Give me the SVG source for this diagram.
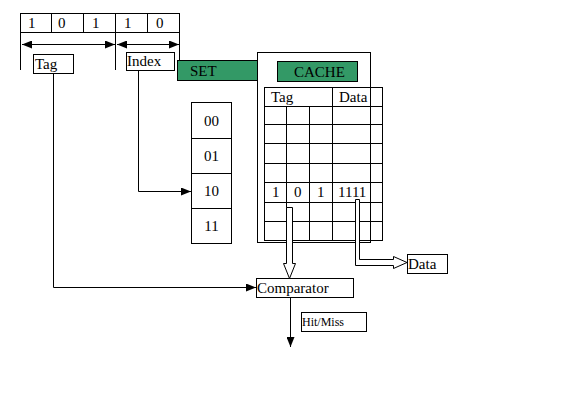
<svg xmlns="http://www.w3.org/2000/svg" width="575" height="400" viewBox="0 0 575 400">
<style>
.b{fill:#fff;stroke:#000;stroke-width:1}
.g{fill:#339966;stroke:#000;stroke-width:1}
.l{fill:none;stroke:#000;stroke-width:1}
.t{font-family:"Liberation Serif","Times New Roman",serif;font-size:15px;fill:#000}
.s{font-family:"Liberation Serif","Times New Roman",serif;font-size:12px;fill:#000}
.c{text-anchor:middle}
</style>
<defs>
<marker id="ah" markerWidth="10" markerHeight="8" refX="10" refY="4" orient="auto" markerUnits="userSpaceOnUse">
<path d="M0,0 L10,4 L0,8 Z" fill="#000"/>
</marker>
<marker id="as" markerWidth="10" markerHeight="8" refX="0" refY="4" orient="auto" markerUnits="userSpaceOnUse">
<path d="M10,0 L0,4 L10,8 Z" fill="#000"/>
</marker>
</defs>
<rect width="575" height="400" fill="#fff"/>

<g id="address">
<rect class="b" x="20.5" y="13.5" width="159" height="19"/>
<path class="l" d="M51.5,13.5V32.5M83.5,13.5V32.5M115.5,13.5V32.5M147.5,13.5V32.5"/>
<text class="t" x="28" y="28">1</text>
<text class="t" x="58" y="28">0</text>
<text class="t" x="92" y="28">1</text>
<text class="t" x="124" y="28">1</text>
<text class="t" x="156" y="28">0</text>
<path class="l" d="M20.5,32.5V70M115.5,32.5V70M179.5,32.5V60"/>
</g>

<g id="tag-label">
<rect class="b" x="33.5" y="54.5" width="40" height="19"/>
<text class="t" x="35" y="69">Tag</text>
</g>
<g id="index-label">
<rect class="b" x="126.5" y="52.5" width="48" height="18"/>
<text class="t" x="127" y="66">Index</text>
</g>

<g id="set-label">
<rect class="g" x="177.5" y="60.5" width="80" height="20"/>
<text class="t" x="190" y="76">SET</text>
</g>

<g id="set-table">
<rect class="b" x="191.5" y="102.5" width="40" height="141"/>
<path class="l" d="M191.5,138.5H231.5M191.5,173.5H231.5M191.5,208.5H231.5"/>
<text class="t c" x="211.5" y="126">00</text>
<text class="t c" x="211.5" y="161">01</text>
<text class="t c" x="211.5" y="196">10</text>
<text class="t c" x="211.5" y="231">11</text>
</g>

<g id="cache">
<rect class="b" x="257.5" y="52.5" width="113" height="190"/>
<rect class="g" x="277.5" y="61.5" width="80" height="20"/>
<text class="t" x="294" y="77">CACHE</text>
<rect class="b" x="264.5" y="87.5" width="118" height="153"/>
<path class="l" d="M264.5,106.5H382.5M264.5,124.5H382.5M264.5,143.5H382.5M264.5,163.5H382.5M264.5,182.5H382.5M264.5,202.5H382.5M264.5,221.5H382.5"/>
<path class="l" d="M286.5,106.5V240.5M309.5,106.5V240.5M332.5,87.5V240.5M370.5,87.5V240.5"/>
<text class="t" x="271" y="102">Tag</text>
<text class="t" x="339" y="102">Data</text>
<text class="t" x="272" y="197">1</text>
<text class="t" x="294" y="197">0</text>
<text class="t" x="317" y="197">1</text>
<text class="t" x="338" y="197">1111</text>
</g>

<g id="comparator">
<rect class="b" x="256.5" y="278.5" width="97" height="19"/>
<text class="t" x="257" y="293">Comparator</text>
</g>
<g id="hitmiss">
<rect class="b" x="301.5" y="312.5" width="65" height="19"/>
<text class="s" x="302" y="326">Hit/Miss</text>
</g>
<g id="data-out">
<rect class="b" x="407.5" y="254.5" width="40" height="19"/>
<text class="t" x="408" y="269">Data</text>
</g>

<g id="connectors">
<line class="l" x1="22" y1="44.5" x2="115" y2="44.5" marker-start="url(#as)" marker-end="url(#ah)"/>
<line class="l" x1="117" y1="44.5" x2="179" y2="44.5" marker-start="url(#as)" marker-end="url(#ah)"/>
<polyline class="l" points="53.5,73.5 53.5,287.5 256,287.5" marker-end="url(#ah)"/>
<polyline class="l" points="138.5,70.5 138.5,191.5 191,191.5" marker-end="url(#ah)"/>
<line class="l" x1="290.5" y1="297.5" x2="290.5" y2="347" marker-end="url(#ah)"/>
<polygon class="b" points="286.5,207.5 292.5,207.5 292.5,263.5 295.5,263.5 289.5,278.5 283.5,263.5 286.5,263.5"/>
<polygon class="b" points="355.5,199.5 359.5,199.5 359.5,259.5 393.5,259.5 393.5,256.5 407,262.5 393.5,268.5 393.5,265.5 355.5,265.5"/>
</g>
</svg>
